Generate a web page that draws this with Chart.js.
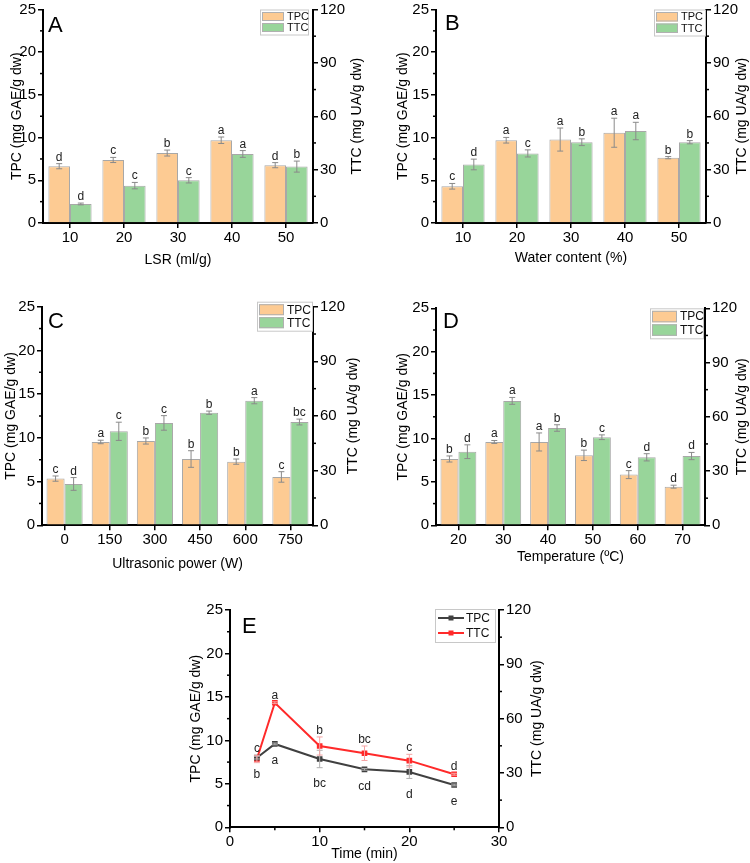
<!DOCTYPE html>
<html>
<head>
<meta charset="utf-8">
<script src="https://cdn.jsdelivr.net/npm/chart.js@4.4.1/dist/chart.umd.min.js"></script>
<style>
html, body { margin: 0; padding: 0; background: #fff; }
#wrap { position: relative; width: 750px; height: 863px; overflow: hidden; }
canvas { position: absolute; }
</style>
</head>
<body>
<div id="wrap">
  <canvas id="cA" width="375" height="290" style="left:0;top:0"></canvas>
  <canvas id="cB" width="375" height="290" style="left:375px;top:0"></canvas>
  <canvas id="cC" width="375" height="290" style="left:0;top:290px"></canvas>
  <canvas id="cD" width="375" height="290" style="left:375px;top:290px"></canvas>
  <canvas id="cE" width="450" height="283" style="left:150px;top:580px"></canvas>
</div>
<script>
// A - liquid/solid ratio
var lsr = ['10', '20', '30', '40', '50'];
var tpcA = [6.65, 7.38, 8.19, 9.69, 6.77];
var tpcAErr = [0.3, 0.3, 0.35, 0.38, 0.3];
var tpcALet = ['d', 'c', 'b', 'a', 'd'];
var ttcA = [10.7, 21.0, 24.0, 38.8, 31.7];
var ttcAErr = [0.5, 1.8, 1.5, 1.9, 3.1];
var ttcALet = ['d', 'c', 'c', 'a', 'b'];

// B - water content
var water = ['10', '20', '30', '40', '50'];
var tpcB = [4.3, 9.69, 9.77, 10.57, 7.65];
var tpcBErr = [0.33, 0.33, 1.35, 1.7, 0.13];
var tpcBLet = ['c', 'a', 'a', 'a', 'b'];
var ttcB = [32.9, 39.1, 45.4, 51.7, 45.4];
var ttcBErr = [3.0, 2.0, 1.9, 4.9, 0.9];
var ttcBLet = ['d', 'c', 'b', 'a', 'b'];

// C - ultrasonic power
var power = ['0', '150', '300', '450', '600', '750'];
var tpcC = [5.34, 9.53, 9.64, 7.58, 7.28, 5.53];
var tpcCErr = [0.3, 0.2, 0.35, 0.95, 0.3, 0.6];
var tpcCLet = ['c', 'a', 'b', 'b', 'b', 'c'];
var ttcC = [22.7, 51.6, 56.2, 61.8, 68.4, 56.7];
var ttcCErr = [3.5, 5.0, 4.0, 0.9, 1.7, 1.6];
var ttcCLet = ['d', 'c', 'c', 'b', 'a', 'bc'];

// D - temperature
var temp = ['20', '30', '40', '50', '60', '70'];
var tpcD = [7.64, 9.6, 9.6, 8.06, 5.84, 4.45];
var tpcDErr = [0.35, 0.17, 1.04, 0.6, 0.46, 0.17];
var tpcDLet = ['b', 'a', 'a', 'b', 'c', 'd'];
var ttcD = [40.7, 68.8, 53.8, 48.7, 37.6, 38.3];
var ttcDErr = [3.8, 1.9, 1.8, 1.3, 2.0, 2.0];
var ttcDLet = ['d', 'a', 'b', 'c', 'd', 'd'];

// E - time
var time = [3, 5, 10, 15, 20, 25];
var tpcE = [8.01, 9.59, 7.86, 6.67, 6.37, 4.87];
var tpcEErr = [0.15, 0.1, 1.0, 0.1, 0.75, 0.1];
var tpcELet = ['b', 'a', 'bc', 'cd', 'd', 'e'];
var ttcE = [37.7, 68.8, 44.9, 40.9, 36.8, 29.3];
var ttcEErr = [2.0, 0.5, 5.0, 4.0, 3.5, 0.5];
var ttcELet = ['c', 'a', 'b', 'bc', 'c', 'd'];

var tpcTicks = { min: 0, max: 25, step: 5 };
var ttcTicks = { min: 0, max: 120, step: 30 };

Chart.defaults.font.family = '"Liberation Sans", Arial, sans-serif';

var FILL_TPC = '#fdcb93';
var FILL_TTC = '#98d59a';

// error bars, letters, minor ticks, legend box, right title, panel letter
var decor = {
    id: 'decor',
    afterDatasetsDraw: function (chart, args, o) {
        var ctx = chart.ctx;
        ctx.save();
        chart.data.datasets.forEach(function (ds, i) {
            if (!ds.errors) return;
            var meta = chart.getDatasetMeta(i);
            var ys = chart.scales[meta.yAxisID];
            meta.data.forEach(function (el, j) {
                var v = typeof ds.data[j] === 'object' ? ds.data[j].y : ds.data[j];
                var e = ds.errors[j];
                var y1 = ys.getPixelForValue(v + e), y2 = ys.getPixelForValue(v - e);
                ctx.strokeStyle = ds.errColor;
                ctx.lineWidth = 1;
                ctx.beginPath();
                ctx.moveTo(el.x, y1); ctx.lineTo(el.x, y2);
                ctx.moveTo(el.x - 3, y1); ctx.lineTo(el.x + 3, y1);
                ctx.moveTo(el.x - 3, y2); ctx.lineTo(el.x + 3, y2);
                ctx.stroke();
                if (ds.letters) {
                    ctx.fillStyle = '#222';
                    ctx.font = '12px "Liberation Sans", Arial, sans-serif';
                    ctx.textAlign = 'center';
                    if (ds.letterBelow) {
                        ctx.textBaseline = 'middle';
                        ctx.fillText(ds.letters[j], el.x, y2 + 16);
                    } else {
                        ctx.textBaseline = 'alphabetic';
                        ctx.fillText(ds.letters[j], el.x, y1 - 3);
                    }
                }
            });
        });
        ctx.restore();
    },
    afterDraw: function (chart, args, o) {
        var ctx = chart.ctx, a = chart.chartArea;
        ctx.save();
        ctx.strokeStyle = '#000';
        ctx.lineWidth = 1.5;
        (o.minor || []).forEach(function (m) {
            var s = chart.scales[m.id];
            for (var v = s.min + m.step; v < s.max; v += m.step) {
                if (Math.abs(v / m.major - Math.round(v / m.major)) < 1e-6) continue;
                var p = s.getPixelForValue(v);
                ctx.beginPath();
                if (s.position === 'left') { ctx.moveTo(a.left, p); ctx.lineTo(a.left - 3, p); }
                else if (s.position === 'right') { ctx.moveTo(a.right, p); ctx.lineTo(a.right + 3, p); }
                else { ctx.moveTo(p, a.bottom); ctx.lineTo(p, a.bottom + 3); }
                ctx.stroke();
            }
        });

        // right axis title, reading upwards
        if (o.rightTitle) {
            ctx.save();
            ctx.translate(a.right + o.rightTitle.dx, (a.top + a.bottom) / 2);
            ctx.rotate(-Math.PI / 2);
            ctx.fillStyle = '#000';
            ctx.font = '14px "Liberation Sans", Arial, sans-serif';
            ctx.textAlign = 'center';
            ctx.textBaseline = 'middle';
            ctx.fillText(o.rightTitle.text, 0, 0);
            ctx.restore();
        }

        // panel letter
        if (o.panel) {
            ctx.fillStyle = '#000';
            ctx.font = '22px "Liberation Sans", Arial, sans-serif';
            ctx.textAlign = 'left';
            ctx.textBaseline = 'alphabetic';
            ctx.fillText(o.panel.text, a.left + o.panel.dx, a.top + o.panel.dy);
        }

        // legend box
        if (o.legend) {
            var L = o.legend;
            var bx = a.right - L.dx - L.w, by = a.top + L.dy;
            ctx.fillStyle = '#fff';
            ctx.fillRect(bx, by, L.w, L.h);
            ctx.strokeStyle = '#c8c8c8';
            ctx.lineWidth = 1;
            ctx.strokeRect(bx + 0.5, by + 0.5, L.w, L.h);
            var rh = (L.h - 3) / 2;
            var sw = L.sw;
            chart.data.datasets.forEach(function (ds, i) {
                var ry = by + 1.5 + i * rh;
                if (L.type === 'bar') {
                    ctx.fillStyle = ds.backgroundColor;
                    ctx.fillRect(bx + 2, ry + 1, sw, rh - 2);
                    ctx.strokeStyle = '#b0b0b0';
                    ctx.strokeRect(bx + 2.5, ry + 1.5, sw - 1, rh - 3);
                } else {
                    var cy = ry + rh / 2;
                    ctx.strokeStyle = ds.borderColor;
                    ctx.lineWidth = 2;
                    ctx.beginPath();
                    ctx.moveTo(bx + 3, cy); ctx.lineTo(bx + 3 + sw, cy);
                    ctx.stroke();
                    ctx.fillStyle = ds.borderColor;
                    ctx.fillRect(bx + 3 + sw / 2 - 2.5, cy - 2.5, 5, 5);
                }
                ctx.fillStyle = '#111';
                ctx.font = L.font + 'px "Liberation Sans", Arial, sans-serif';
                ctx.textAlign = 'left';
                ctx.textBaseline = 'middle';
                ctx.fillText(ds.label, bx + sw + 5, ry + rh / 2 + 0.5);
            });
        }
        ctx.restore();
    }
};

function axisBase() {
    return {
        grid: { display: true, offset: false, drawOnChartArea: false, drawTicks: true, tickLength: 5, color: '#000', lineWidth: 1.5 },
        border: { display: true, color: '#000', width: 2 },
        ticks: { color: '#000', font: { size: 15, lineHeight: 1 }, padding: 2, maxRotation: 0, autoSkip: false }
    };
}

function yAxes(lay) {
    var y = axisBase();
    y.position = 'left';
    y.min = tpcTicks.min; y.max = tpcTicks.max;
    y.ticks.stepSize = tpcTicks.step;
    y.title = { display: true, text: 'TPC (mg GAE/g dw)', color: '#000', font: { size: 14 }, padding: { top: lay.yTitlePad, bottom: 0 } };
    y.afterFit = function (s) { s.width = lay.left; };
    var y1 = axisBase();
    y1.position = 'right';
    y1.min = ttcTicks.min; y1.max = ttcTicks.max;
    y1.ticks.stepSize = ttcTicks.step;
    y1.afterFit = function (s) { s.width = lay.right; };
    return { y: y, y1: y1 };
}

function plugOpts(lay, type) {
    return {
        legend: { display: false },
        tooltip: { enabled: false },
        decor: {
            minor: lay.minor,
            rightTitle: { text: 'TTC (mg UA/g dw)', dx: lay.rTitleDx },
            panel: { text: lay.panel, dx: lay.panelDx, dy: lay.panelDy },
            legend: { type: type, dx: lay.lg[0], dy: lay.lg[1], w: lay.lg[2], h: lay.lg[3], sw: lay.lg[4], font: lay.lg[5] }
        }
    };
}

function barChart(id, cats, tpc, tpcErr, tpcLet, ttc, ttcErr, ttcLet, lay) {
    var sc = yAxes(lay);
    var x = axisBase();
    x.type = 'category';
    x.offset = true;
    x.title = { display: true, text: lay.xTitle, color: '#000', font: { size: 14 }, padding: { top: 0, bottom: lay.xTitlePad } };
    x.afterFit = function (s) { s.height = lay.bottom; };
    sc.x = x;
    lay.minor = [{ id: 'y', step: 2.5, major: 5 }, { id: 'y1', step: 15, major: 30 }];
    return new Chart(document.getElementById(id), {
        type: 'bar',
        data: {
            labels: cats,
            datasets: [{
                label: 'TPC', data: tpc, yAxisID: 'y',
                backgroundColor: FILL_TPC, borderColor: '#a8a8a8', borderWidth: 1,
                errors: tpcErr, letters: tpcLet, errColor: '#8a8a8a',
                categoryPercentage: 0.8, barPercentage: 1.0
            }, {
                label: 'TTC', data: ttc, yAxisID: 'y1',
                backgroundColor: FILL_TTC, borderColor: '#a8a8a8', borderWidth: 1,
                errors: ttcErr, letters: ttcLet, errColor: '#8a8a8a',
                categoryPercentage: 0.8, barPercentage: 1.0
            }]
        },
        options: {
            responsive: false, animation: false,
            layout: { padding: { top: lay.top, left: 0, right: 0, bottom: 0 } },
            plugins: plugOpts(lay, 'bar'),
            scales: sc
        },
        plugins: [decor]
    });
}

barChart('cA', lsr, tpcA, tpcAErr, tpcALet, ttcA, ttcAErr, ttcALet, {
    top: 7.5, left: 43, right: 62, bottom: 67, xTitle: 'LSR (ml/g)', xTitlePad: 21.6, yTitlePad: 8.6,
    rTitleDx: 44, panel: 'A', panelDx: 5, panelDy: 22, lg: [5, 0, 48, 25, 22, 11]
});
barChart('cB', water, tpcB, tpcBErr, tpcBLet, ttcB, ttcBErr, ttcBLet, {
    top: 7.5, left: 61, right: 44, bottom: 67, xTitle: 'Water content (%)', xTitlePad: 23.6, yTitlePad: 19.6,
    rTitleDx: 35.7, panel: 'B', panelDx: 9, panelDy: 20, lg: [1, 0, 51, 26, 22, 11]
});
barChart('cC', power, tpcC, tpcCErr, tpcCLet, ttcC, ttcCErr, ttcCLet, {
    top: 16.7, left: 42, right: 62, bottom: 54.7, xTitle: 'Ultrasonic power (W)', xTitlePad: 7.6, yTitlePad: 2.6,
    rTitleDx: 40, panel: 'C', panelDx: 6, panelDy: 21, lg: [1, -5, 55, 29, 25, 12]
});
barChart('cD', temp, tpcD, tpcDErr, tpcDLet, ttcD, ttcDErr, ttcDLet, {
    top: 18.3, left: 61, right: 45, bottom: 54.7, xTitle: 'Temperature (\u00baC)', xTitlePad: 14.6, yTitlePad: 19.6,
    rTitleDx: 37, panel: 'D', panelDx: 7, panelDy: 20, lg: [2, 0, 53, 30, 25, 12]
});

// E - line chart on a linear time axis
(function () {
    var lay = {
        top: 30, left: 80, right: 101, bottom: 35.7, xTitlePad: 0.6, yTitlePad: 37.6,
        rTitleDx: 37.7, panel: 'E', panelDx: 12, panelDy: 23, lg: [4, -1, 60, 33, 26, 12]
    };
    var sc = yAxes(lay);
    var x = axisBase();
    x.type = 'linear';
    x.min = 0; x.max = 30;
    x.ticks.stepSize = 10;
    x.title = { display: true, text: 'Time (min)', color: '#000', font: { size: 14 }, padding: { top: 0, bottom: lay.xTitlePad } };
    x.afterFit = function (s) { s.height = lay.bottom; };
    sc.x = x;
    lay.minor = [{ id: 'y', step: 2.5, major: 5 }, { id: 'y1', step: 15, major: 30 }, { id: 'x', step: 5, major: 10 }];
    new Chart(document.getElementById('cE'), {
        type: 'line',
        data: {
            datasets: [{
                label: 'TPC', yAxisID: 'y',
                data: time.map(function (t, i) { return { x: t, y: tpcE[i] }; }),
                borderColor: '#404040', backgroundColor: '#404040', borderWidth: 2,
                pointStyle: 'rect', pointRadius: 4, pointBorderWidth: 0,
                errors: tpcEErr, letters: tpcELet, letterBelow: true, errColor: '#b0b0b0'
            }, {
                label: 'TTC', yAxisID: 'y1',
                data: time.map(function (t, i) { return { x: t, y: ttcE[i] }; }),
                borderColor: '#ff2a2a', backgroundColor: '#ff2a2a', borderWidth: 2,
                pointStyle: 'rect', pointRadius: 4, pointBorderWidth: 0,
                errors: ttcEErr, letters: ttcELet, errColor: '#f5a3a3'
            }]
        },
        options: {
            responsive: false, animation: false,
            layout: { padding: { top: lay.top, left: 0, right: 0, bottom: 0 } },
            plugins: plugOpts(lay, 'line'),
            scales: sc
        },
        plugins: [decor]
    });
})();
</script>
</body>
</html>
